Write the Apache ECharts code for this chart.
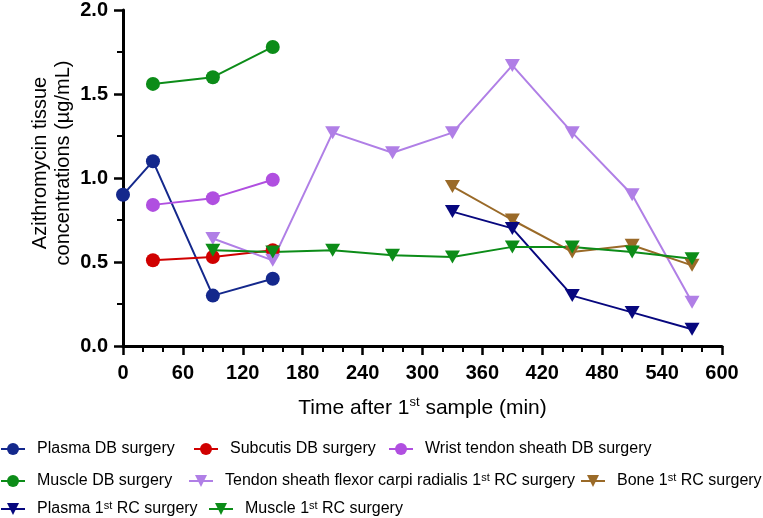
<!DOCTYPE html>
<html>
<head>
<meta charset="utf-8">
<script src="https://cdn.jsdelivr.net/npm/echarts@6/dist/echarts.min.js"></script>
<style>
  html, body { margin: 0; padding: 0; background: #fff; }
  #chart { width: 763px; height: 518px; }
</style>
</head>
<body>
<div id="chart"></div>
<script>
// [time (min), concentration (µg/mL)]
const plasmaDB = [[0, 0.90], [30, 1.10], [90, 0.30], [150, 0.40]]
const subcutisDB = [[30, 0.51], [90, 0.53], [150, 0.57]]
const wristDB = [[30, 0.84], [90, 0.88], [150, 0.99]]
const muscleDB = [[30, 1.56], [90, 1.60], [150, 1.78]]
const tendonRC = [[90, 0.64], [150, 0.51], [210, 1.27], [270, 1.15], [330, 1.27], [390, 1.67], [450, 1.27], [510, 0.90], [570, 0.26]]
const boneRC = [[330, 0.95], [390, 0.75], [450, 0.56], [510, 0.60], [570, 0.48]]
const plasmaRC = [[330, 0.80], [390, 0.70], [450, 0.30], [510, 0.20], [570, 0.10]]
const muscleRC = [[90, 0.57], [150, 0.56], [210, 0.57], [270, 0.54], [330, 0.53], [390, 0.59], [450, 0.59], [510, 0.56], [570, 0.52]]

const FONT = 'Liberation Sans, Arial, sans-serif'
const TRI = 'path://M0,0L20,0L10,17Z'

// name, data, colour, symbol
const seriesDefs = [
  ['Plasma DB surgery', plasmaDB, '#14288c', 'circle'],
  ['Subcutis DB surgery', subcutisDB, '#d00000', 'circle'],
  ['Wrist tendon sheath DB surgery', wristDB, '#b04fe0', 'circle'],
  ['Muscle DB surgery', muscleDB, '#0c8c18', 'circle'],
  ['Tendon sheath flexor carpi radialis 1st RC surgery', tendonRC, '#b07fe6', TRI],
  ['Bone 1st RC surgery', boneRC, '#9a6a28', TRI],
  ['Plasma 1st RC surgery', plasmaRC, '#07077e', TRI],
  ['Muscle 1st RC surgery', muscleRC, '#0c8c18', TRI],
]

// legend placement, one entry per series (left, top)
const legendSpots = [
  [0, 440], [193, 440], [388, 440],
  [0, 472], [188, 472], [580, 472],
  [0, 500], [208, 500],
]

const supRich = {
  sup: { fontSize: 11, fontFamily: FONT, color: '#000', verticalAlign: 'top', lineHeight: 11 },
}

function legendFor (name, [left, top]) {
  return {
    data: [name],
    left,
    top,
    width: 400,
    padding: 0,
    itemWidth: 24,
    itemHeight: 15,
    selectedMode: false,
    formatter: n => n.replace('1st', '1{sup|st}'),
    textStyle: {
      fontFamily: FONT,
      fontSize: 16,
      color: '#000',
      lineHeight: 18,
      padding: [0, 0, 0, 7],
      rich: supRich,
    },
  }
}

const chart = echarts.init(document.getElementById('chart'))

chart.setOption({
  animation: false,
  backgroundColor: '#fff',
  grid: { left: 123, right: 41, top: 9, bottom: 172 },
  legend: seriesDefs.map((d, i) => legendFor(d[0], legendSpots[i])),
  xAxis: {
    type: 'value',
    min: 0,
    max: 600,
    interval: 60,
    name: 'Time after 1{sup|st} sample (min)',
    nameLocation: 'middle',
    nameGap: 50,
    nameTextStyle: {
      fontFamily: FONT,
      fontSize: 21,
      color: '#000',
      lineHeight: 24,
      rich: { sup: { fontSize: 13, fontFamily: FONT, color: '#000', verticalAlign: 'top', lineHeight: 13 } },
    },
    axisLine: { lineStyle: { color: '#000', width: 3 } },
    axisTick: { length: 9, lineStyle: { color: '#000', width: 2.5 } },
    minorTick: { show: true, splitNumber: 3, length: 6, lineStyle: { color: '#000', width: 2 } },
    splitLine: { show: false },
    axisLabel: { fontFamily: FONT, fontSize: 20, fontWeight: 'bold', color: '#000', margin: 17 },
  },
  yAxis: {
    type: 'value',
    min: 0,
    max: 2,
    interval: 0.5,
    axisLine: { show: true, lineStyle: { color: '#000', width: 3 } },
    axisTick: { show: true, length: 9, lineStyle: { color: '#000', width: 2.5 } },
    minorTick: { show: true, splitNumber: 2, length: 6, lineStyle: { color: '#000', width: 2 } },
    splitLine: { show: false },
    axisLabel: {
      fontFamily: FONT, fontSize: 20, fontWeight: 'bold', color: '#000', margin: 15,
      formatter: v => v.toFixed(1),
    },
  },
  graphic: [{
    type: 'text',
    x: 52,
    y: 163,
    rotation: Math.PI / 2,
    style: {
      text: 'Azithromycin tissue\nconcentrations (µg/mL)',
      font: '20px ' + FONT,
      fill: '#000',
      textAlign: 'center',
      textVerticalAlign: 'middle',
      lineHeight: 23,
    },
  }],
  series: seriesDefs.map(([name, data, color, symbol]) => ({
    name,
    type: 'line',
    data,
    symbol,
    symbolSize: symbol === 'circle' ? 14 : [15, 13],
    lineStyle: { color, width: 2 },
    itemStyle: { color },
    z: 2,
  })),
})
</script>
</body>
</html>
